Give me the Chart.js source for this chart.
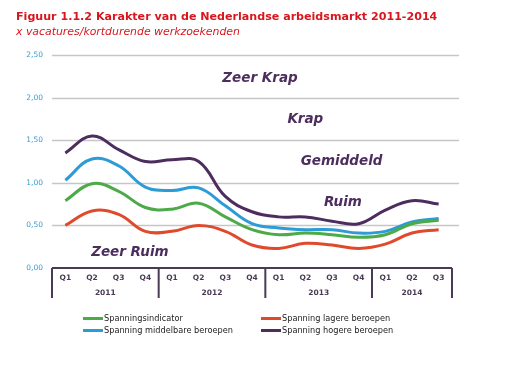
<!DOCTYPE html>
<html>
<head>
<meta charset="utf-8">
<script src="https://cdn.jsdelivr.net/npm/chart.js@4.4.1/dist/chart.umd.min.js"></script>
<style>
  html, body { margin: 0; padding: 0; background: #fff; }
  #wrap { position: relative; width: 531px; height: 375px; overflow: hidden; font-family: "DejaVu Sans", Verdana, sans-serif; }
  #chart { position: absolute; left: 0; top: 0; }
  .title { position: absolute; left: 16px; top: 10px; font-size: 11.1px; font-weight: bold; color: #d9161d; white-space: nowrap; }
  .subtitle { position: absolute; left: 16px; top: 25px; font-size: 10.9px; font-style: italic; color: #d9161d; white-space: nowrap; }
  .legend { position: absolute; left: 83px; top: 313px; display: grid; grid-template-columns: 178px 200px; row-gap: 2px; font-size: 8.2px; color: #222; }
  .legend span { display: flex; align-items: center; white-space: nowrap; }
  .legend i { display: inline-block; width: 20px; height: 3px; margin-right: 1px; }
</style>
</head>
<body>
<div id="wrap">
  <canvas id="chart" width="531" height="375"></canvas>
  <div class="title">Figuur 1.1.2 Karakter van de Nederlandse arbeidsmarkt 2011-2014</div>
  <div class="subtitle">x vacatures/kortdurende werkzoekenden</div>
  <div class="legend" id="legend"></div>
</div>
<script>
const quarters = ["Q1", "Q2", "Q3", "Q4", "Q1", "Q2", "Q3", "Q4", "Q1", "Q2", "Q3", "Q4", "Q1", "Q2", "Q3"];
const years = ["2011", "2012", "2013", "2014"];
const quartersPerYear = [4, 4, 4, 3];
const yTicks = [0, 0.5, 1, 1.5, 2, 2.5];

const spanningsindicator = [0.79, 0.99, 0.90, 0.71, 0.69, 0.76, 0.60, 0.45, 0.39, 0.41, 0.39, 0.36, 0.39, 0.52, 0.56];
const lagere = [0.50, 0.67, 0.63, 0.43, 0.43, 0.50, 0.43, 0.27, 0.23, 0.29, 0.27, 0.23, 0.28, 0.41, 0.45];
const middelbare = [1.03, 1.28, 1.20, 0.95, 0.91, 0.94, 0.73, 0.52, 0.47, 0.45, 0.45, 0.41, 0.43, 0.54, 0.58];
const hogere = [1.35, 1.55, 1.39, 1.25, 1.27, 1.25, 0.84, 0.66, 0.60, 0.60, 0.55, 0.52, 0.68, 0.79, 0.75];

const zoneLabels = ["Zeer Krap", "Krap", "Gemiddeld", "Ruim", "Zeer Ruim"];

const series = [
  { label: "Spanningsindicator", data: spanningsindicator, color: "#4caa48" },
  { label: "Spanning lagere beroepen", data: lagere, color: "#e04a2c" },
  { label: "Spanning middelbare beroepen", data: middelbare, color: "#2d9bd6" },
  { label: "Spanning hogere beroepen", data: hogere, color: "#4c2d5e" },
];

const purple = "#4c2d5e";
const frameColor = "#4a3a55";

// zone labels: [text, x category position, y value]
const zonePos = [
  [zoneLabels[0], 7.3, 2.23],
  [zoneLabels[1], 9.0, 1.74],
  [zoneLabels[2], 10.36, 1.25],
  [zoneLabels[3], 10.41, 0.77],
  [zoneLabels[4], 2.42, 0.18],
];

const overlay = {
  id: "overlay",
  beforeDatasetsDraw(chart) {
    const { ctx, chartArea, scales } = chart;
    const y = scales.y;
    ctx.save();
    ctx.strokeStyle = "#c6c6c6";
    ctx.lineWidth = 1.6;
    yTicks.forEach((v) => {
      if (v === 0) return;
      const py = Math.round(y.getPixelForValue(v)) + 0.5;
      ctx.beginPath();
      ctx.moveTo(chartArea.left, py);
      ctx.lineTo(chartArea.right + 7, py);
      ctx.stroke();
    });
    ctx.fillStyle = purple;
    ctx.font = "italic bold 13.5px 'DejaVu Sans'";
    ctx.textAlign = "center";
    ctx.textBaseline = "middle";
    zonePos.forEach(([t, xi, yv]) => {
      ctx.fillText(t, scales.x.getPixelForValue(xi), y.getPixelForValue(yv));
    });
    ctx.restore();
  },
  afterDraw(chart) {
    const { ctx, chartArea, scales } = chart;
    const x = scales.x;
    const bottom = chartArea.bottom;
    const half = (x.getPixelForValue(1) - x.getPixelForValue(0)) / 2;
    ctx.save();
    ctx.strokeStyle = frameColor;
    ctx.lineWidth = 2;
    ctx.beginPath();
    ctx.moveTo(chartArea.left, bottom);
    ctx.lineTo(chartArea.right, bottom);
    ctx.stroke();
    let idx = 0;
    const bounds = [x.getPixelForValue(0) - half];
    quartersPerYear.forEach((n) => {
      idx += n;
      bounds.push(x.getPixelForValue(idx - 1) + half);
    });
    bounds.forEach((bx) => {
      ctx.beginPath();
      ctx.moveTo(bx, bottom);
      ctx.lineTo(bx, bottom + 30);
      ctx.stroke();
    });
    ctx.fillStyle = frameColor;
    ctx.font = "bold 7.5px 'DejaVu Sans'";
    ctx.textAlign = "center";
    ctx.textBaseline = "middle";
    idx = 0;
    years.forEach((yr, i) => {
      const first = idx;
      idx += quartersPerYear[i];
      const cx = (x.getPixelForValue(first) + x.getPixelForValue(idx - 1)) / 2;
      ctx.fillText(yr, cx, bottom + 25);
    });
    ctx.restore();
  },
};

const chart = new Chart(document.getElementById("chart"), {
  type: "line",
  data: {
    labels: quarters,
    datasets: series.map((s) => ({
      label: s.label,
      data: s.data,
      borderColor: s.color,
      backgroundColor: s.color,
      borderWidth: 3,
      pointRadius: 0,
      tension: 0.4,
      fill: false,
    })),
  },
  options: {
    responsive: false,
    animation: false,
    layout: { padding: { left: 0, right: 79, top: 55, bottom: 77 } },
    plugins: {
      legend: { display: false },
      tooltip: { enabled: false },
    },
    scales: {
      x: {
        offset: true,
        grid: { display: false, drawTicks: false },
        border: { display: false },
        ticks: {
          color: frameColor,
          font: { family: "DejaVu Sans", size: 7.5, weight: "bold" },
          padding: 5.5,
          maxRotation: 0,
          autoSkip: false,
        },
        afterFit(scale) { scale.height = 30; },
      },
      y: {
        min: 0,
        max: 2.5,
        grid: { display: false, drawTicks: false },
        border: { display: false },
        afterBuildTicks(scale) { scale.ticks = yTicks.map((v) => ({ value: v })); },
        ticks: {
          color: "#3a9bd0",
          font: { family: "DejaVu Sans", size: 7.5 },
          padding: 9,
          callback: (v) => v.toFixed(2).replace(".", ","),
        },
        afterFit(scale) { scale.width = 52; },
      },
    },
  },
  plugins: [overlay],
});

const legendEl = document.getElementById("legend");
[0, 1, 2, 3].forEach((i) => {
  const s = series[i];
  const item = document.createElement("span");
  item.innerHTML = '<i style="background:' + s.color + '"></i>' + s.label;
  legendEl.appendChild(item);
});
</script>
</body>
</html>
